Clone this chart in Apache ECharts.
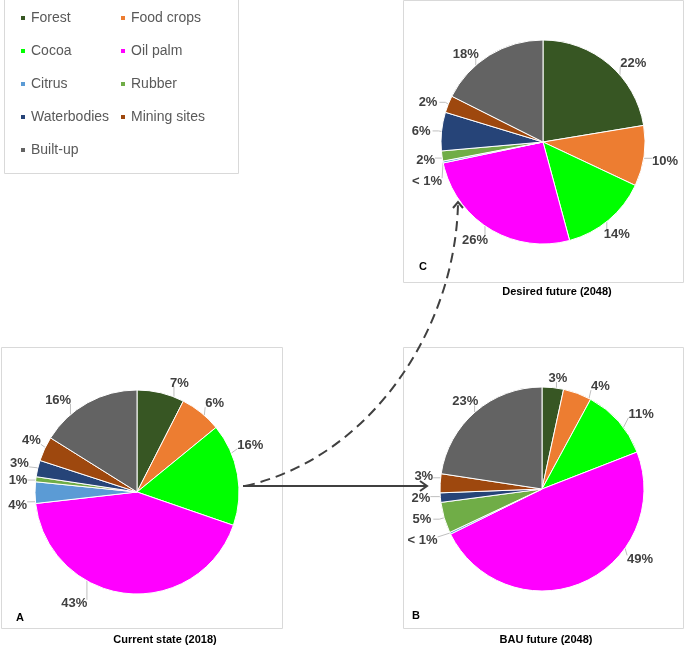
<!DOCTYPE html>
<html><head><meta charset="utf-8">
<script src="https://cdn.jsdelivr.net/npm/echarts@6/dist/echarts.min.js"></script>
<style>html,body{margin:0;padding:0;background:#fff}#c{width:685px;height:647px}</style>
</head><body><div id="c"></div>
<script>
const categories = ['Forest','Food crops','Cocoa','Oil palm','Citrus','Rubber','Waterbodies','Mining sites','Built-up'];
const colors = ['#375623','#ED7D31','#00FF00','#FF00FF','#5B9BD5','#70AD47','#264478','#9E480E','#636363'];
const currentValues = [7.5,6.6,16.2,42.9,3.4,0.8,2.6,3.9,16.1];
const currentLabels = ['7%','6%','16%','43%','4%','1%','3%','4%','16%'];
const bauValues = [3.4,4.5,11.2,48.6,0.3,4.9,1.5,3.0,22.6];
const bauLabels = ['3%','4%','11%','49%','< 1%','5%','2%','3%','23%'];
const desiredValues = [22.4,9.6,13.8,25.9,0.3,1.6,6.1,2.7,17.6];
const desiredLabels = ['22%','10%','14%','26%','< 1%','2%','6%','2%','18%'];
const panelTitles = ['Current state (2018)','BAU future (2048)','Desired future (2048)'];
const panelLetters = ['A','B','C'];
const legendLeftCol = ['Forest','Cocoa','Citrus','Waterbodies','Built-up'];
const legendRightCol = ['Food crops','Oil palm','Rubber','Mining sites'];

// label nudges (layout only) to mimic the original "best fit" label placement
const labelNudges = {
  '0-0':[0,-5], '0-1':[-7,-5], '0-2':[-13,-28], '0-3':[-30,5],
  '0-4':[3,8], '0-5':[3,-2], '0-6':[2,-4], '0-7':[7,-6], '0-8':[-6,2],
  '1-0':[-13,-4], '1-1':[-13,-11], '1-2':[0,-4], '1-3':[34,-28],
  '1-4':[0,5], '1-6':[3,0], '1-7':[6,-7], '1-8':[14,-6],
  '2-0':[0,3], '2-1':[-5,5], '2-2':[-16,10], '2-3':[9,7],
  '2-4':[8,10], '2-5':[4,4], '2-8':[0,3]
};
const PIE_R = 102;
const pieCenters = [[137,492],[542,489],[543,142]];
const allValues = [currentValues, bauValues, desiredValues];

const FONT = '"Liberation Sans", Arial, sans-serif';
const chart = echarts.init(document.getElementById('c'), null, {renderer:'canvas'});

function sliceRange(vals, idx){
  const tot = vals.reduce((a,b)=>a+b,0);
  let s = 0; for (let i=0;i<idx;i++) s += vals[i];
  return [s/tot*360, (s+vals[idx])/tot*360];
}

function pieSeries(si, name, labels){
  const center = pieCenters[si], values = allValues[si];
  return {
    type:'pie', name, center, radius:PIE_R, startAngle:90, clockwise:true,
    avoidLabelOverlap:true,
    data: categories.map((c,i)=>({name:c, value:values[i], itemStyle:{color:colors[i]}})),
    itemStyle:{borderColor:'#ffffff', borderWidth:1},
    label:{show:true, position:'outside', formatter:p=>labels[p.dataIndex], bleedMargin:0,
      fontFamily:FONT, fontWeight:'bold', fontSize:13, color:'#404040', distanceToLabelLine:2},
    labelLine:{show:true, length:5, length2:6, lineStyle:{color:'#bfbfbf', width:1}},
    labelLayout:function(p){
      const n = labelNudges[p.seriesIndex+'-'+p.dataIndex];
      if (!n) return {};
      const r = p.labelRect;
      const x0 = r.x + n[0], y0 = r.y + n[1], x1 = x0 + r.width, y1 = y0 + r.height;
      const lcx = (x0+x1)/2, lcy = (y0+y1)/2;
      const [cx, cy] = center;
      let th = Math.atan2(lcx-cx, -(lcy-cy))*180/Math.PI; if (th<0) th += 360;
      const [a0,a1] = sliceRange(values, p.dataIndex);
      const pad = Math.min(1, (a1-a0)/3);
      th = Math.min(Math.max(th, a0+pad), a1-pad);
      const rad = th*Math.PI/180;
      const ex = cx + PIE_R*Math.sin(rad), ey = cy - PIE_R*Math.cos(rad);
      const ax = Math.min(Math.max(ex, x0), x1), ay = Math.min(Math.max(ey, y0+3), y1-3);
      return {dx:n[0], dy:n[1], labelLinePoints:[[ex,ey],[ax,ay],[ax,ay]]};
    },
    emphasis:{disabled:true}, animation:false
  };
}

const legendCommon = {orient:'vertical', padding:0, icon:'rect', itemWidth:6, itemHeight:6, itemGap:17,
  textStyle:{fontFamily:FONT, fontSize:14, color:'#595959', lineHeight:16, padding:[0,0,0,0]}, selectedMode:false};

const border = '#d9d9d9';
const graphics = [
  {type:'rect', shape:{x:4.5,y:-1,width:234,height:174.5}, style:{fill:null, stroke:border, lineWidth:1}},
  {type:'rect', shape:{x:1.5,y:347.5,width:281,height:281}, style:{fill:null, stroke:border, lineWidth:1}},
  {type:'rect', shape:{x:403.5,y:347.5,width:280,height:281}, style:{fill:null, stroke:border, lineWidth:1}},
  {type:'rect', shape:{x:403.5,y:0.5,width:280,height:282}, style:{fill:null, stroke:border, lineWidth:1}},
  {type:'text', x:165, y:640, style:{text:panelTitles[0], font:'bold 11px '+FONT, fill:'#000', textAlign:'center', textVerticalAlign:'middle'}},
  {type:'text', x:546, y:640, style:{text:panelTitles[1], font:'bold 11px '+FONT, fill:'#000', textAlign:'center', textVerticalAlign:'middle'}},
  {type:'text', x:557, y:292, style:{text:panelTitles[2], font:'bold 11px '+FONT, fill:'#000', textAlign:'center', textVerticalAlign:'middle'}},
  {type:'text', x:20, y:618, style:{text:panelLetters[0], font:'bold 11px '+FONT, fill:'#000', textAlign:'center', textVerticalAlign:'middle'}},
  {type:'text', x:416, y:616, style:{text:panelLetters[1], font:'bold 11px '+FONT, fill:'#000', textAlign:'center', textVerticalAlign:'middle'}},
  {type:'text', x:423, y:267, style:{text:panelLetters[2], font:'bold 11px '+FONT, fill:'#000', textAlign:'center', textVerticalAlign:'middle'}},
  {type:'polyline', shape:{points:[[243,486],[426,486]]}, style:{stroke:'#404040', lineWidth:2, fill:null}, z:10},
  {type:'polyline', shape:{points:[[420,481],[427,486],[420,491]]}, style:{stroke:'#404040', lineWidth:2, fill:null}, z:10},
  {type:'bezierCurve', shape:{x1:245,y1:486,cpx1:370,cpy1:458,cpx2:455,cpy2:330,x2:458,y2:204}, style:{stroke:'#404040', lineWidth:2, fill:null, lineDash:[10,6]}, z:10},
  {type:'polyline', shape:{points:[[453,208],[458,202],[463,208]]}, style:{stroke:'#404040', lineWidth:2, fill:null}, z:10}
];

chart.setOption({
  animation:false,
  color:colors,
  legend:[
    Object.assign({data:legendLeftCol, left:19, top:10}, legendCommon),
    Object.assign({data:legendRightCol, left:119, top:10}, legendCommon)
  ],
  graphic:graphics,
  series:[
    pieSeries(0, 'Current state (2018)', currentLabels),
    pieSeries(1, 'BAU future (2048)', bauLabels),
    pieSeries(2, 'Desired future (2048)', desiredLabels)
  ]
});
</script></body></html>
